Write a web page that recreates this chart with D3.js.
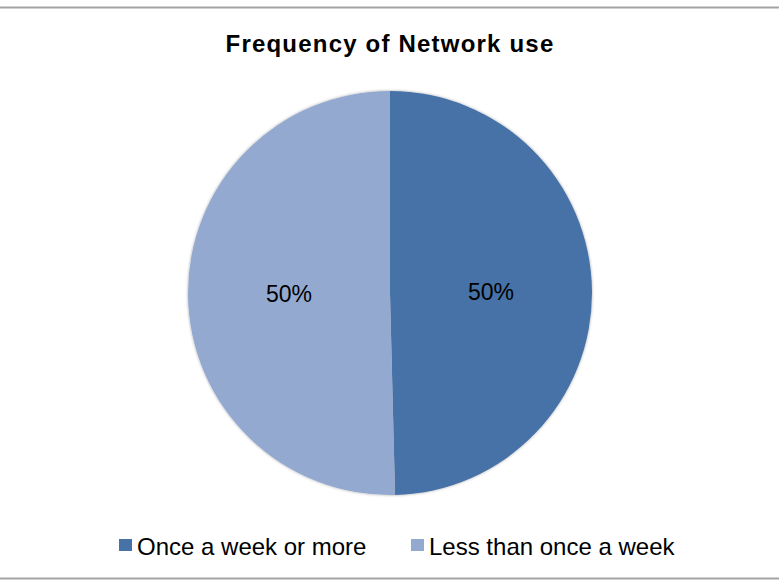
<!DOCTYPE html>
<html>
<head>
<meta charset="utf-8">
<script src="https://cdn.jsdelivr.net/npm/d3@7"></script>
<style>
  html, body { margin: 0; padding: 0; background: #ffffff; }
  svg { display: block; font-family: "Liberation Sans", Arial, sans-serif; }
</style>
</head>
<body>
<svg id="chart" width="779" height="584"></svg>
<script>
// Share of respondents by how often they use the network
const categories = ["Once a week or more", "Less than once a week"];
const shares = [0.496, 0.504];
const colors = ["#4672A7", "#94A9CF"];
const title = "Frequency of Network use";

const svg = d3.select("#chart");
const W = 779, H = 584;

// chart frame
svg.append("line").attr("x1", 0).attr("x2", W).attr("y1", 7.5).attr("y2", 7.5)
  .attr("stroke", "#a3a3a3").attr("stroke-width", 2);
svg.append("line").attr("x1", 0).attr("x2", W).attr("y1", 578.5).attr("y2", 578.5)
  .attr("stroke", "#a3a3a3").attr("stroke-width", 2);

svg.append("text")
  .attr("x", 390).attr("y", 52)
  .attr("text-anchor", "middle")
  .attr("font-weight", "bold")
  .attr("font-size", 24)
  .attr("letter-spacing", 1.2)
  .attr("fill", "#000")
  .text(title);

const data = categories.map((c, i) => ({ name: c, value: shares[i], color: colors[i] }));
const cx = 390, cy = 293, r = 202;

const pie = d3.pie().sort(null).value(d => d.value);
const arc = d3.arc().innerRadius(0).outerRadius(r);

const defs = svg.append("defs");
const shadow = defs.append("filter").attr("id", "soft").attr("x", "-10%").attr("y", "-10%")
  .attr("width", "120%").attr("height", "120%");
shadow.append("feGaussianBlur").attr("in", "SourceAlpha").attr("stdDeviation", 1.5).attr("result", "b");
shadow.append("feComponentTransfer").attr("in", "b").attr("result", "s")
  .append("feFuncA").attr("type", "linear").attr("slope", 0.35);
const merge = shadow.append("feMerge");
merge.append("feMergeNode").attr("in", "s");
merge.append("feMergeNode").attr("in", "SourceGraphic");

const g = svg.append("g").attr("transform", `translate(${cx},${cy})`);
const arcs = pie(data);

g.append("g").attr("filter", "url(#soft)")
  .selectAll("path").data(arcs).join("path")
  .attr("d", arc)
  .attr("fill", d => d.data.color);

const pct = d3.format(".0%");
g.selectAll("text.lbl").data(arcs).join("text")
  .attr("class", "lbl")
  .attr("transform", d => `translate(${arc.centroid(d)})`)
  .attr("dy", "0.35em")
  .attr("text-anchor", "middle")
  .attr("font-size", 23)
  .attr("fill", "#000")
  .text(d => pct(d.data.value));

// legend
const legendX = [119, 411];
const lg = svg.append("g");
data.forEach((d, i) => {
  lg.append("rect").attr("x", legendX[i]).attr("y", 539).attr("width", 13).attr("height", 12)
    .attr("fill", d.color);
  lg.append("text").attr("x", legendX[i] + 18).attr("y", 555)
    .attr("font-size", 24).attr("fill", "#000").text(d.name);
});
</script>
</body>
</html>
